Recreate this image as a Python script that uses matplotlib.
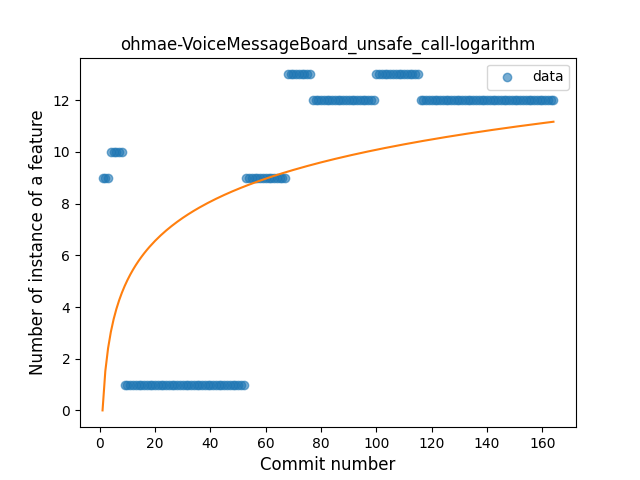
import numpy as np
import matplotlib
matplotlib.use("Agg")
import matplotlib.pyplot as plt

# segments: (start commit, end commit, value)
seg_starts = [1, 4, 9, 53, 68, 77, 100, 116]
seg_ends = [3, 8, 52, 67, 76, 99, 115, 164]
seg_values = [9, 10, 1, 9, 13, 12, 13, 12]
fit_coef = 2.19  # y = a*log(x)

x = np.concatenate([np.arange(s, e + 1) for s, e in zip(seg_starts, seg_ends)])
y = np.concatenate([np.full(e - s + 1, v) for s, e, v in zip(seg_starts, seg_ends, seg_values)])

fig, ax = plt.subplots(figsize=(6.4, 4.8), dpi=100)
ax.scatter(x, y, alpha=0.6, label="data")
xf = np.arange(1, 165)
ax.plot(xf, fit_coef * np.log(xf), color="#ff7f0e")
ax.set_title("ohmae-VoiceMessageBoard_unsafe_call-logarithm")
ax.set_xlabel("Commit number", fontsize=12)
ax.set_ylabel("Number of instance of a feature", fontsize=12)
ax.legend(loc="upper right")
fig.savefig("out.png")
